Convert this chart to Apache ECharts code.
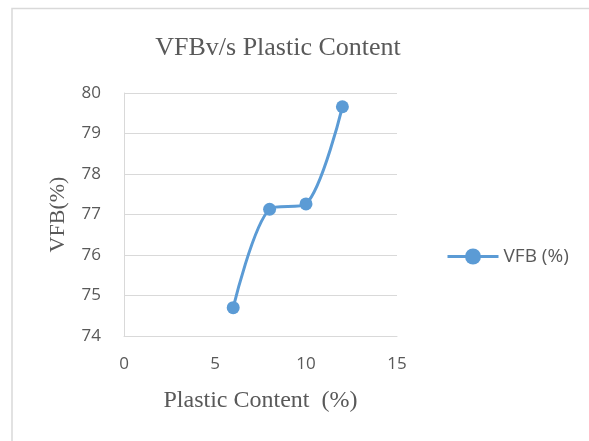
<!DOCTYPE html>
<html>
<head>
<meta charset="utf-8">
<script src="https://cdn.jsdelivr.net/npm/echarts@6/dist/echarts.min.js"></script>
<style>
  html, body { margin: 0; padding: 0; background: #fff; }
  #chart { width: 589px; height: 441px; }
</style>
</head>
<body>
<div id="chart"></div>
<script>
// data
var plasticContent = [6, 8, 10, 12];
var vfbValues = [74.7, 77.13, 77.26, 79.66];
var xTicks = [0, 5, 10, 15];
var yTicks = [74, 75, 76, 77, 78, 79, 80];

var textGrey = '#595959';
var lineBlue = '#5b9bd5';

var chart = echarts.init(document.getElementById('chart'));

var points = [];
for (var i = 0; i < plasticContent.length; i++) {
  points.push([plasticContent[i], vfbValues[i]]);
}

var option = {
  backgroundColor: '#fff',
  animation: false,
  title: {
    text: 'VFBv/s Plastic Content',
    left: 273,
    textAlign: 'center',
    top: 30,
    textStyle: {
      fontFamily: 'Liberation Serif',
      fontWeight: 'normal',
      fontSize: 26,
      color: textGrey
    }
  },
  legend: {
    data: ['VFB (%)'],
    orient: 'vertical',
    left: 446,
    top: 247,
    padding: 0,
    itemWidth: 51,
    itemHeight: 20,
    itemGap: 5,
    lineStyle: { width: 3 },
    textStyle: {
      fontFamily: 'Open Sans',
      fontSize: 19,
      color: textGrey
    }
  },
  grid: {
    left: 124,
    right: 192,
    top: 93,
    bottom: 105
  },
  xAxis: {
    type: 'value',
    min: xTicks[0],
    max: xTicks[xTicks.length - 1],
    interval: 5,
    name: 'Plastic Content  (%)',
    nameLocation: 'middle',
    nameGap: 53,
    nameTextStyle: {
      fontFamily: 'Liberation Serif',
      fontSize: 24,
      color: textGrey
    },
    axisLine: { show: true, lineStyle: { color: '#d9d9d9', width: 1 } },
    axisTick: { show: false },
    splitLine: { show: false },
    axisLabel: {
      margin: 20,
      fontFamily: 'Open Sans',
      fontSize: 17,
      color: textGrey
    }
  },
  yAxis: {
    type: 'value',
    min: yTicks[0],
    max: yTicks[yTicks.length - 1],
    interval: 1,
    name: 'VFB(%)',
    nameLocation: 'middle',
    nameGap: 55,
    nameTextStyle: {
      fontFamily: 'Liberation Serif',
      fontSize: 22,
      color: textGrey
    },
    axisLine: { show: true, lineStyle: { color: '#d9d9d9', width: 1 } },
    axisTick: { show: false },
    splitLine: { show: true, lineStyle: { color: '#d9d9d9', width: 1 } },
    axisLabel: {
      margin: 23,
      fontFamily: 'Open Sans',
      fontSize: 17,
      color: textGrey
    }
  },
  graphic: [
    {
      type: 'rect',
      silent: true,
      shape: { x: 12, y: 8.5, width: 600, height: 460 },
      style: { fill: 'none', stroke: '#d9d9d9', lineWidth: 1.5 },
      z: -1
    }
  ],
  series: [
    {
      name: 'VFB (%)',
      type: 'line',
      data: points,
      smooth: 0.3,
      symbol: 'circle',
      symbolSize: 13,
      lineStyle: { color: lineBlue, width: 3 },
      itemStyle: { color: lineBlue }
    }
  ]
};

chart.setOption(option);
</script>
</body>
</html>
